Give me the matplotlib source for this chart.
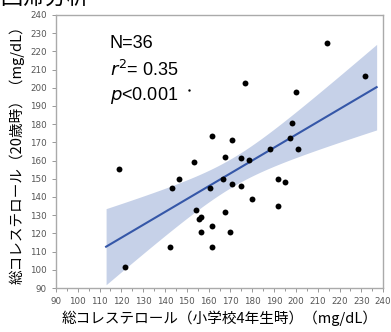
import numpy as np
import matplotlib
matplotlib.use('Agg')
from matplotlib import pyplot as plt

# data
chol_child = [118.7, 121.8, 142.1, 143.2, 146.2, 153.3, 154.4, 155.4, 156.5, 156.4,
              160.4, 161.5, 161.5, 166.5, 167.5, 167.6, 169.6, 170.6, 170.6, 174.7,
              174.7, 178.7, 179.8, 187.9, 192.0, 192.0, 195.1, 201.1, 151.0, 176.7,
              214.4, 231.7, 200.2, 198.2, 197.1, 161.5]
chol_adult = [155.2, 101.7, 112.7, 145.1, 150.0, 159.2, 133.0, 127.9, 128.8, 121.0,
              145.1, 123.9, 112.7, 150.0, 162.2, 131.9, 121.0, 147.1, 171.3, 161.3,
              146.0, 160.3, 139.1, 166.4, 150.0, 134.9, 148.1, 166.4, 198.8, 202.6,
              224.8, 206.6, 197.6, 180.5, 172.4, 173.3]
fit_range = [113, 237]
stats_text = ['N=36', '$\\it{r}^2$= 0.35', '$\\it{p}$<0.001']
title = '回帰分析'
xlabel = '総コレステロール（小学校4年生時）（mg/dL）'
ylabel = '総コレステロール（20歳時）（mg/dL）'

jp = ['Noto Sans CJK JP', 'DejaVu Sans']

x = np.array(chol_child)
y = np.array(chol_adult)
n = len(x)
b, a = np.polyfit(x, y, 1)
resid = y - (a + b * x)
s = np.sqrt((resid ** 2).sum() / (n - 2))
sxx = ((x - x.mean()) ** 2).sum()
xs = np.linspace(fit_range[0], fit_range[1], 100)
ys = a + b * xs
half = 2.03 * s * np.sqrt(1 / n + (xs - x.mean()) ** 2 / sxx)

fig = plt.figure(figsize=(3.91, 3.32), dpi=100)
ax = fig.add_axes([0.143, 0.1325, 0.837, 0.8225])

ax.fill_between(xs, ys - half, ys + half, color='#c6d1e8', lw=0, zorder=1)
ax.plot(xs, ys, color='#3557a8', lw=1.5, zorder=2)
ax.scatter(x[:28], y[:28], s=18, color='black', zorder=3, lw=0)
ax.scatter(x[29:], y[29:], s=18, color='black', zorder=3, lw=0)
ax.scatter(x[28:29], y[28:29], s=3, color='black', zorder=3, lw=0)

ax.set_xlim(90, 240)
ax.set_ylim(90, 240)
ax.set_xticks(np.arange(90, 241, 10))
ax.set_yticks(np.arange(90, 241, 10))
ax.set_xticks(np.arange(95, 240, 10), minor=True)
ax.tick_params(labelsize=6.3, labelcolor='#555555', color='#888888', length=3, width=0.6)
ax.tick_params(which='minor', length=2, color='#888888', width=0.6)
for sp in ax.spines.values():
    sp.set_color('#aaaaaa')
    sp.set_linewidth(1.0)

for i, t in enumerate(stats_text):
    ax.text(0.165, 0.895 - i * 0.095, t, transform=ax.transAxes, fontsize=13,
            family='Liberation Sans', va='center', ha='left')

ax.set_xlabel(xlabel, family=jp, fontsize=10.5, labelpad=3)
ax.set_ylabel(ylabel, family=jp, fontsize=10.5, labelpad=4)
fig.text(0.0, 0.988, title, family=jp, fontsize=16, va='baseline', ha='left')

fig.savefig('out.png', dpi=100)
